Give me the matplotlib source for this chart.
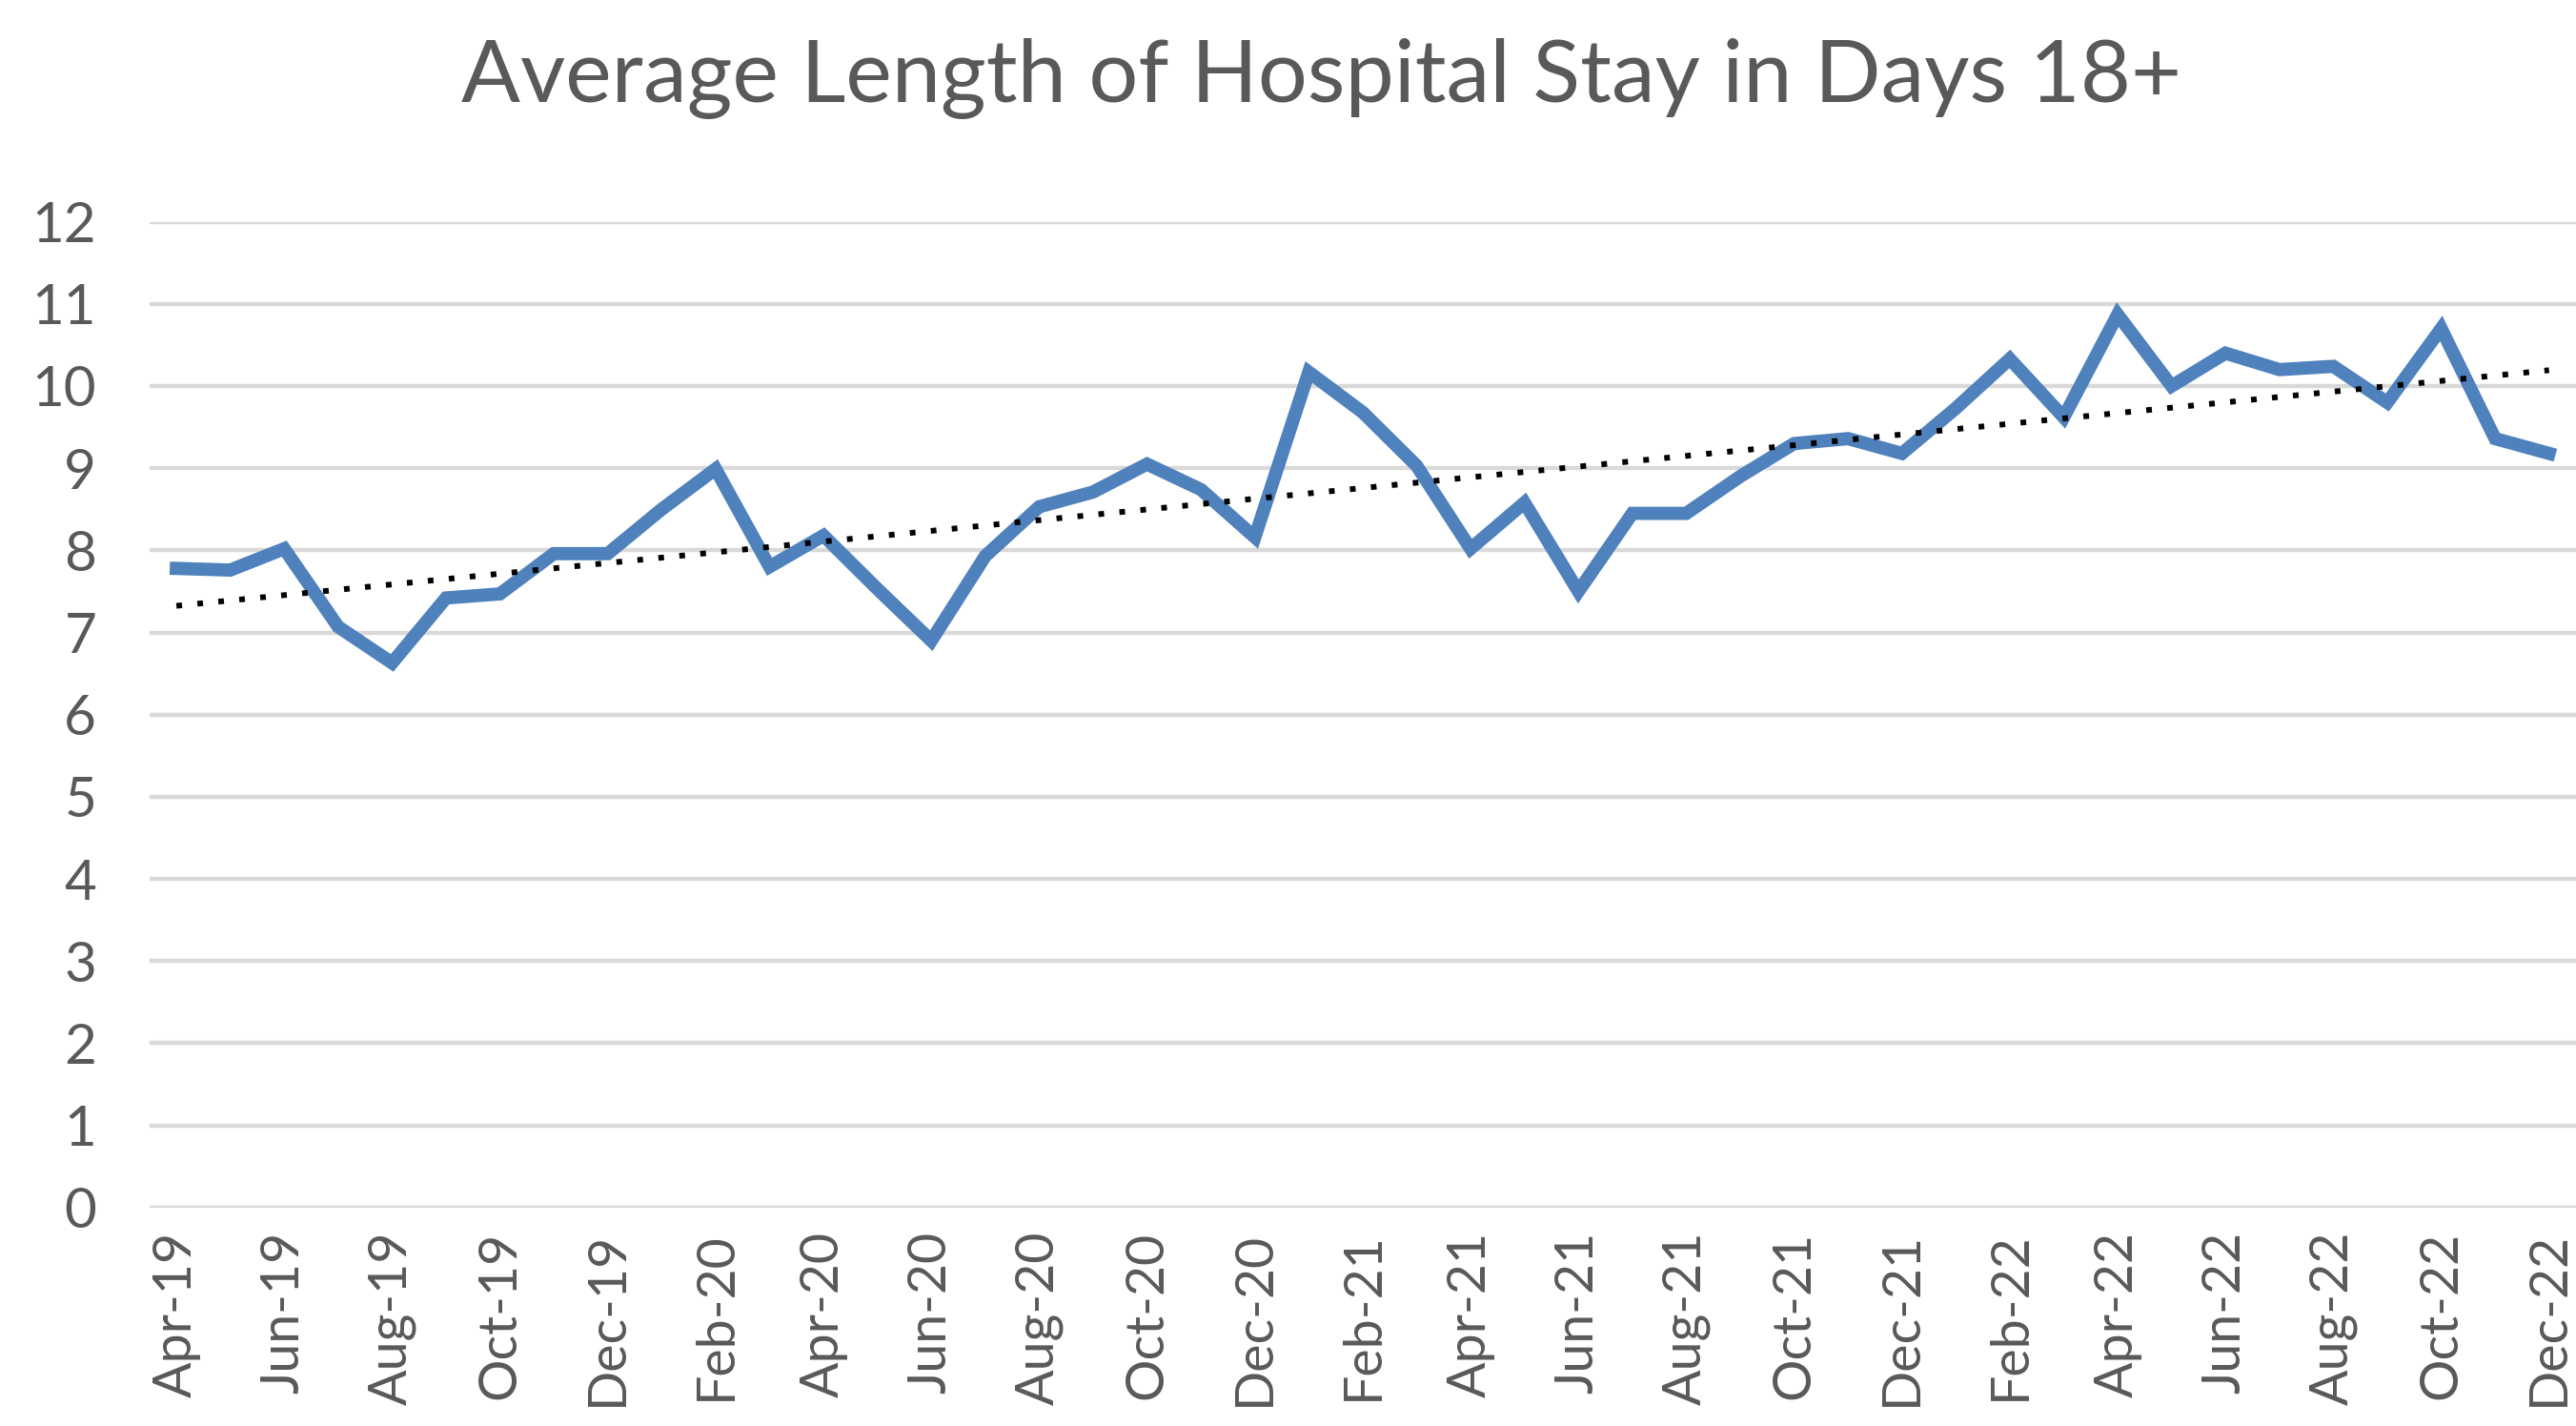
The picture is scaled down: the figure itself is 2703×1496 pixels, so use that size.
import matplotlib
matplotlib.use("Agg")
import matplotlib.pyplot as plt
import numpy as np

# monthly average length of stay, Apr-19 .. Dec-22
months = ["Apr-19", "May-19", "Jun-19", "Jul-19", "Aug-19", "Sep-19", "Oct-19", "Nov-19", "Dec-19",
          "Jan-20", "Feb-20", "Mar-20", "Apr-20", "May-20", "Jun-20", "Jul-20", "Aug-20", "Sep-20",
          "Oct-20", "Nov-20", "Dec-20",
          "Jan-21", "Feb-21", "Mar-21", "Apr-21", "May-21", "Jun-21", "Jul-21", "Aug-21", "Sep-21",
          "Oct-21", "Nov-21", "Dec-21",
          "Jan-22", "Feb-22", "Mar-22", "Apr-22", "May-22", "Jun-22", "Jul-22", "Aug-22", "Sep-22",
          "Oct-22", "Nov-22", "Dec-22"]
los_2019 = [7.78, 7.76, 8.02, 7.07, 6.63, 7.42, 7.47, 7.96, 7.96]
los_2020 = [8.5, 8.99, 7.8, 8.18, 7.53, 6.9, 7.93, 8.53, 8.71, 9.05, 8.74, 8.16]
los_2021 = [10.17, 9.68, 9.03, 8.02, 8.58, 7.5, 8.45, 8.45, 8.9, 9.3, 9.36, 9.18]
los_2022 = [9.73, 10.33, 9.62, 10.87, 10.0, 10.4, 10.2, 10.24, 9.8, 10.7, 9.36, 9.18]
y_ticks = [0, 1, 2, 3, 4, 5, 6, 7, 8, 9, 10, 11, 12]

los = np.array(los_2019 + los_2020 + los_2021 + los_2022)
x = np.arange(len(los))

txt = "#595959"
plt.rcParams['font.family'] = ['Lato', 'DejaVu Sans']

fig = plt.figure(figsize=(27.03, 14.96), dpi=100)
ax = fig.add_axes([0.058, 0.1532, 0.942, 0.6913])

ax.plot(x, los, color="#4F81BD", lw=10, solid_joinstyle="miter", zorder=3)

# linear trendline like excel
k, b = np.polyfit(x, los, 1)
ax.plot(x, k * x + b, color="black", lw=4.3, linestyle=(0, (1, 2.7)), zorder=4)

ax.set_xlim(-0.5, len(los) - 0.5)
ax.set_ylim(0, 12)
ax.set_yticks(y_ticks)
ax.set_xticks(x[::2])
ax.set_xticklabels(months[::2], rotation=90)
ax.grid(axis="y", color="#D9D9D9", lw=3.2)
ax.set_axisbelow(True)
for s in ax.spines.values():
    s.set_visible(False)
ax.tick_params(length=0, colors=txt, labelsize=42)
ax.tick_params(axis="y", pad=40)
ax.tick_params(axis="x", pad=18, labelsize=40)

fig.text(0.513, 0.945, "Average Length of Hospital Stay in Days 18+", ha="center", va="center",
         fontsize=66, color=txt)

fig.savefig("out.png", dpi=100)
